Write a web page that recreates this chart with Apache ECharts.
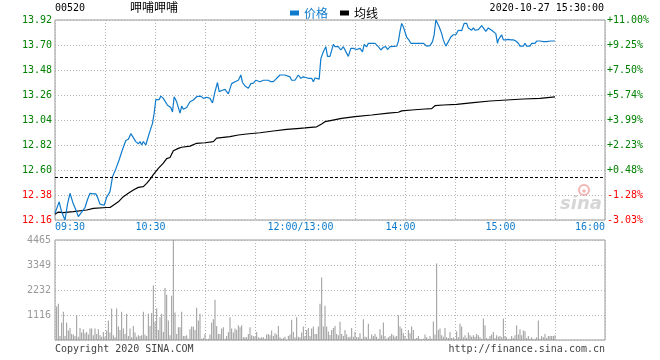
<!DOCTYPE html>
<html><head><meta charset="utf-8">
<script src="https://cdn.jsdelivr.net/npm/echarts@6/dist/echarts.min.js"></script>
<style>html,body{margin:0;padding:0;background:#fff}#c{width:660px;height:360px}</style>
</head><body><div id="c"></div>
<script>
// ---- data ----
const stockCode = '00520';
const stockName = '呷哺呷哺';
const stamp = '2020-10-27 15:30:00';
const prevClose = 12.54;
const priceTicks = ['12.16','12.38','12.60','12.82','13.04','13.26','13.48','13.70','13.92'];
const pctTicks = ['-3.03%','-1.28%','+0.48%','+2.23%','+3.99%','+5.74%','+7.50%','+9.25%','+11.00%'];
const volTicks = ['', '1116', '2232', '3349', '4465'];
const volMax = 4465;
const timeTickMinutes = [0, 60, 150, 210, 270, 330];
const timeTickLabels = ['09:30', '10:30', '12:00/13:00', '14:00', '15:00', '16:00'];
const sessionMinutes = 330;

// price line: trading minute (from 09:30, lunch removed) and price
const priceMin = [0,1,2.5,4,6,7.5,9,11,12.5,14,16,18,19.5,21,23,24.5,25.5,27,29.5,31,33,34.5,36.5,38.5,40.5,42.5,44,45.5,46.5,48.5,50,51,52,53,54.5,56.5,58.5,59.5,60.5,61.5,62.5,63.5,65,66,67.5,69.5,70.5,71.5,73,75,76,77,79,81,83,85,86,87.5,89,91,93,94.5,96,97.5,98.5,100,102,104,106,108,110,111.5,112.5,114,116,117.5,119,120.5,123,125,128,129.5,131,133,135,138,139,141,142,144,146,147.5,149,150,
152,153,154,155,156,157,158.5,159.5,161,162.5,163.5,165,167,168,170,171.5,173,174,176,177.5,179,181,183,184.5,185.5,187,188,192,194,195.5,197,198.5,199.5,201,205,206,207,208,209,210,211,212.5,213.5,216,217,218,221,223,225,226.5,227.5,228.5,229.5,230.5,232,233,234.5,236,237.5,239,240.5,242,244,245.5,247,248,249,250,251,252,253,254,255,256,257,258.5,260,261,262,263,264.5,265.5,266,267,268,269,270.5,272,273.5,275,276.5,278,279,281,282,283,285,286,288,289,291,293,294,295,296,297.5,298.5,300];
const priceVal = [12.22,12.26,12.32,12.23,12.16,12.30,12.395,12.30,12.25,12.19,12.23,12.27,12.34,12.395,12.39,12.39,12.36,12.30,12.29,12.36,12.41,12.54,12.61,12.69,12.78,12.86,12.87,12.92,12.93,12.85,12.83,12.85,12.82,12.85,12.82,12.92,13.01,13.10,13.22,13.23,13.22,13.25,13.23,13.22,13.17,13.15,13.11,13.245,13.20,13.10,13.163,13.134,13.15,13.20,13.216,13.245,13.23,13.25,13.23,13.24,13.23,13.19,13.29,13.37,13.29,13.30,13.31,13.27,13.36,13.377,13.39,13.436,13.37,13.34,13.32,13.36,13.365,13.39,13.377,13.39,13.39,13.377,13.377,13.407,13.436,13.436,13.42,13.42,13.39,13.39,13.436,13.407,13.42,13.41,
13.407,13.42,13.407,13.377,13.41,13.407,13.40,13.58,13.64,13.685,13.60,13.60,13.705,13.685,13.685,13.656,13.685,13.67,13.60,13.67,13.67,13.66,13.67,13.64,13.705,13.685,13.715,13.715,13.685,13.656,13.68,13.685,13.66,13.685,13.69,13.73,13.82,13.89,13.86,13.85,13.77,13.74,13.715,13.715,13.73,13.715,13.715,13.69,13.694,13.73,13.79,13.92,13.92,13.86,13.80,13.745,13.69,13.73,13.77,13.79,13.79,13.83,13.826,13.89,13.89,13.85,13.86,13.83,13.85,13.83,13.82,13.835,13.85,13.87,13.85,13.82,13.85,13.86,13.83,13.83,13.80,13.715,13.745,13.76,13.79,13.745,13.745,13.75,13.745,13.745,13.735,13.715,13.69,13.69,13.715,13.69,13.69,13.715,13.715,13.735,13.735,13.73,13.715,13.73,13.72,13.735,13.725,13.735];

// average price line
const avgMin = [0,2,5,11,19,23,31,33,35,38,41,44,47,50,53,55,57,59,62,65,67,69,71,74,76,81,85,90,95,97,105,110,115,123,131,139,147,150,157,160,162,166,172,180,190,200,206,208,214,222,226,228,233,241,251,261,271,281,291,300];
const avgVal = [12.21,12.23,12.225,12.233,12.248,12.263,12.27,12.27,12.29,12.32,12.365,12.395,12.424,12.447,12.453,12.483,12.518,12.56,12.615,12.66,12.70,12.71,12.77,12.79,12.80,12.81,12.835,12.84,12.85,12.88,12.893,12.908,12.917,12.928,12.943,12.958,12.967,12.97,12.98,13.005,13.025,13.037,13.055,13.07,13.084,13.10,13.108,13.12,13.128,13.137,13.14,13.166,13.172,13.178,13.193,13.207,13.216,13.225,13.23,13.243];

// volume per trading minute (index = minute from 09:30)
const volumeVals = [0,1500,1620,180,780,1260,180,780,420,540,270,
240,180,1110,150,540,330,480,300,360,240,
510,510,210,510,270,480,210,150,360,150,
420,870,330,1410,210,120,1410,600,450,1260,
510,270,1170,180,510,120,630,330,150,210,
180,210,1260,240,180,1170,630,1200,2430,810,
1420,450,1020,1170,360,2320,2020,870,210,1980,
4465,1230,270,570,570,1260,180,180,210,60,
480,600,600,450,1440,870,1170,60,90,270,
30,60,240,780,930,1800,630,270,270,510,
570,60,180,360,1020,510,330,510,450,660,
570,660,120,120,120,270,570,210,180,150,
360,120,90,120,120,60,240,270,210,420,
180,300,240,630,120,60,90,150,0,180,
240,900,360,120,1020,150,120,330,600,180,
450,540,180,510,600,270,270,600,1620,2790,
600,1530,600,375,225,450,540,630,270,210,
810,270,180,450,240,120,150,540,150,360,
120,120,300,60,930,150,120,720,60,240,
180,270,150,60,480,210,780,180,60,120,
180,270,210,150,180,1120,600,510,300,180,
60,450,300,600,450,60,90,180,60,30,
60,240,120,60,180,60,825,240,3415,450,
510,210,150,540,120,90,360,90,120,60,
390,120,720,600,120,210,90,330,210,150,
210,150,270,210,120,60,960,660,90,60,
180,240,360,90,210,150,180,120,960,180,
120,30,60,180,90,210,660,240,480,210,
420,390,90,180,60,120,30,60,120,870,
60,180,120,270,90,180,180,180,180,210];

// ---- chart ----
const base = parseFloat(priceTicks[0]);
const step = parseFloat(priceTicks[1]) - parseFloat(priceTicks[0]);
const toUnit = p => (p - base) / step;
const BLUE = '#0f7bcc';
const MONO = '"DejaVu Sans Mono", "Liberation Mono", monospace';
const CJK = '"Noto Sans CJK SC", sans-serif';
const GRID_LINE = { show: true, lineStyle: { color: '#b4b4b4', type: [1, 2], width: 1 } };

const chart = echarts.init(document.getElementById('c'), null, { renderer: 'canvas' });
chart.setOption({
  animation: false,
  backgroundColor: '#fff',
  legend: {
    left: 285, top: 2, icon: 'rect', itemWidth: 9, itemHeight: 5, itemGap: 12,
    textStyle: { fontFamily: CJK, fontSize: 12 },
    data: [{ name: '价格', textStyle: { color: BLUE } }, { name: '均线', textStyle: { color: '#000' } }]
  },
  grid: [
    { left: 55, top: 20, width: 550, height: 200, show: true, borderColor: '#999', borderWidth: 1 },
    { left: 55, top: 240, width: 550, height: 100, show: true, borderColor: '#999', borderWidth: 1 }
  ],
  xAxis: [
    { type: 'value', gridIndex: 0, min: 0, max: sessionMinutes, interval: 30,
      axisLine: { show: false }, axisTick: { show: false }, splitLine: GRID_LINE,
      axisLabel: { show: true, margin: 2, fontFamily: MONO, fontSize: 10, color: BLUE,
        showMinLabel: true, showMaxLabel: true, alignMinLabel: 'left', alignMaxLabel: 'right',
        formatter: v => { const i = timeTickMinutes.indexOf(Math.round(v)); if (i < 0) return '';
          if (i === 0 || i === timeTickMinutes.length - 1) return timeTickLabels[i];
          return '{m|' + timeTickLabels[i] + '}'; },
        rich: { m: { fontFamily: MONO, fontSize: 10, color: BLUE, padding: [0, 9, 0, 0] } } } },
    { type: 'value', gridIndex: 1, min: 0, max: sessionMinutes, interval: 30,
      axisLine: { show: false }, axisTick: { show: false }, splitLine: GRID_LINE, axisLabel: { show: false } }
  ],
  yAxis: [
    { type: 'value', gridIndex: 0, min: 0, max: priceTicks.length - 1, interval: 1, position: 'left',
      axisLine: { show: false }, axisTick: { show: false }, splitLine: GRID_LINE,
      axisLabel: { margin: 3, fontFamily: MONO, fontSize: 10, padding: [0, 0, 5, 0],
        formatter: v => priceTicks[Math.round(v)],
        color: v => (parseFloat(priceTicks[Math.round(Number(v))]) < prevClose ? '#ff0000' : '#008000') } },
    { type: 'value', gridIndex: 0, min: 0, max: pctTicks.length - 1, interval: 1, position: 'right',
      axisLine: { show: false }, axisTick: { show: false }, splitLine: { show: false },
      axisLabel: { margin: 2, fontFamily: MONO, fontSize: 10, padding: [0, 0, 5, 0],
        formatter: v => pctTicks[Math.round(v)],
        color: v => (pctTicks[Math.round(Number(v))].charAt(0) === '-' ? '#ff0000' : '#008000') } },
    { type: 'value', gridIndex: 1, min: 0, max: volMax, interval: volMax / 4,
      axisLine: { show: false }, axisTick: { show: false }, splitLine: GRID_LINE,
      axisLabel: { margin: 4, fontFamily: MONO, fontSize: 10, color: '#999', padding: [0, 0, 5, 0],
        formatter: v => volTicks[Math.round(v / (volMax / 4))] } }
  ],
  series: [
    { name: '均线', type: 'line', xAxisIndex: 0, yAxisIndex: 0, showSymbol: false, symbol: 'none',
      color: '#000', lineStyle: { color: '#000', width: 1.2 },
      data: avgMin.map((m, i) => [m, toUnit(avgVal[i])]),
      markLine: { silent: true, symbol: 'none', label: { show: false },
        lineStyle: { color: '#000', type: [3, 2], width: 1 },
        data: [{ yAxis: toUnit(prevClose) }] } },
    { name: '价格', type: 'line', xAxisIndex: 0, yAxisIndex: 0, showSymbol: false, symbol: 'none',
      color: BLUE, lineStyle: { color: BLUE, width: 1.2 },
      data: priceMin.map((m, i) => [m, toUnit(priceVal[i])]) },
    { name: '成交量', type: 'bar', xAxisIndex: 1, yAxisIndex: 2, barWidth: 1,
      itemStyle: { color: '#999' },
      data: volumeVals.map((v, i) => [i, v]) }
  ],
  graphic: [
    { type: 'text', left: 55, top: 3, style: { text: stockCode, font: '10px ' + MONO, fill: '#000' } },
    { type: 'text', left: 130, top: 1, style: { text: stockName, font: '12px ' + CJK, fill: '#000' } },
    { type: 'text', right: 56, top: 3, style: { text: stamp, font: '10px ' + MONO, fill: '#000' } },
    { type: 'text', left: 55, top: 344, style: { text: 'Copyright 2020 SINA.COM', font: '10px ' + MONO, fill: '#444' } },
    { type: 'text', right: 55, top: 344, style: { text: 'http://finance.sina.com.cn', font: '10px ' + MONO, fill: '#444' } },
    { type: 'circle', shape: { cx: 584, cy: 190, r: 5 }, style: { fill: 'none', stroke: '#f3b4b4', lineWidth: 2 } },
    { type: 'circle', shape: { cx: 584, cy: 191, r: 1.8 }, style: { fill: '#f3b4b4' } },
    { type: 'text', left: 560, top: 195, style: { text: 'sina', font: 'italic bold 18px "DejaVu Sans", sans-serif', fill: '#d6d6d6' } }
  ]
});
</script></body></html>
